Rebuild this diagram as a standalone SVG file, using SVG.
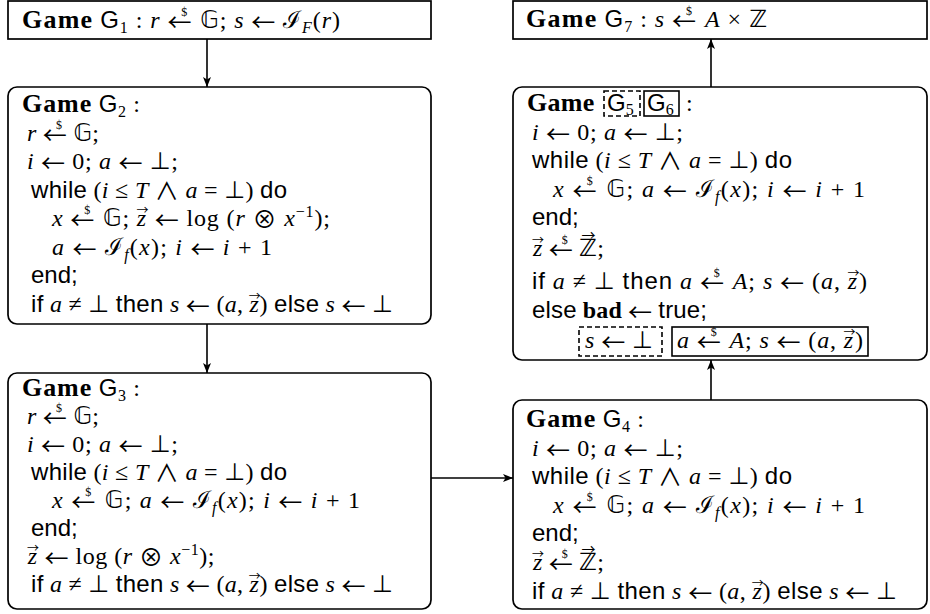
<svg xmlns="http://www.w3.org/2000/svg" width="930" height="614" viewBox="0 0 930 614">
<defs>
<style>
text { font-family: "Liberation Serif", "DejaVu Serif", serif; font-size: 24px; fill: #000; }
.i { font-style: italic; }
.sf { font-family: "Liberation Sans", "DejaVu Sans", sans-serif; }
.b { font-weight: bold; }
.g { font-weight: bold; font-size: 26px; letter-spacing: 0.3px; }
.ar { font-family: "Noto Sans CJK JP", "DejaVu Sans", sans-serif; baseline-shift: -3px; }
.op { font-family: "Noto Sans CJK JP", "DejaVu Sans", sans-serif; baseline-shift: -2px; }
.sy { font-family: "DejaVu Sans", sans-serif; }
.bb { font-family: "DejaVu Sans", "DejaVu Serif", sans-serif; }
.sm { font-size: 16px; }
.dl { font-size: 12px; }
.va { font-family: "Noto Sans CJK JP", "DejaVu Sans", sans-serif; font-size: 12px; }
.va2 { font-family: "Noto Sans CJK JP", "DejaVu Sans", sans-serif; font-size: 14px; }
.box { fill: #fff; stroke: #000; stroke-width: 1.7; }
.dash { fill: none; stroke: #000; stroke-width: 1.6; stroke-dasharray: 5 3; }
.solid { fill: none; stroke: #000; stroke-width: 1.6; }
.conn { stroke: #000; stroke-width: 1.6; fill: none; marker-end: url(#ah); }
</style>
<marker id="ah" viewBox="0 0 10 8" refX="10" refY="4" markerWidth="10" markerHeight="8" orient="auto" markerUnits="userSpaceOnUse"><path d="M0,0 L10,4 L0,8 L2.5,4 Z" fill="#000"/></marker>
</defs>

<g id="g1">
<rect class="box" x="8" y="1" width="423" height="38"/>
<text x="22" y="28" textLength="318"><tspan class="g">Game</tspan> <tspan class="sf">G</tspan><tspan class="sm" dy="5">1</tspan><tspan dy="-5"> : </tspan><tspan class="i">r</tspan> <tspan class="ar">←</tspan><tspan class="dl" dx="-11" dy="-12">$</tspan><tspan dx="5" dy="12"> </tspan><tspan class="bb">𝔾</tspan>; <tspan class="i">s</tspan> <tspan class="ar">←</tspan> ℐ<tspan class="sm i" dy="5">F</tspan><tspan dy="-5">(</tspan><tspan class="i">r</tspan>)</text>
</g>

<g id="g7">
<rect class="box" x="513" y="1" width="414" height="38"/>
<text x="526" y="27" textLength="241"><tspan class="g">Game</tspan> <tspan class="sf">G</tspan><tspan class="sm" dy="5">7</tspan><tspan dy="-5"> : </tspan><tspan class="i">s</tspan> <tspan class="ar">←</tspan><tspan class="dl" dx="-11" dy="-12">$</tspan><tspan dx="5" dy="12"> </tspan><tspan class="i">A</tspan> × <tspan class="bb">ℤ</tspan></text>
</g>

<g id="g2">
<rect class="box" x="8" y="87" width="423" height="237" rx="9"/>
<text x="22" y="112" textLength="118"><tspan class="g">Game</tspan> <tspan class="sf">G</tspan><tspan class="sm" dy="5">2</tspan><tspan dy="-5"> :</tspan></text>
<text x="27" y="141" textLength="72"><tspan class="i">r</tspan> <tspan class="ar">←</tspan><tspan class="dl" dx="-11" dy="-12">$</tspan><tspan dx="5" dy="12"> </tspan><tspan class="bb">𝔾</tspan>;</text>
<text x="27" y="169" textLength="151"><tspan class="i">i</tspan> <tspan class="ar">←</tspan> 0; <tspan class="i">a</tspan> <tspan class="ar">←</tspan> <tspan class="sy">⊥</tspan>;</text>
<text x="31" y="197.5" textLength="256"><tspan class="sf">while</tspan> (<tspan class="i">i</tspan> ≤ <tspan class="i">T</tspan> <tspan class="op">∧</tspan> <tspan class="i">a</tspan> = <tspan class="sy">⊥</tspan>) <tspan class="sf">do</tspan></text>
<text x="52" y="226" textLength="278"><tspan class="i">x</tspan> <tspan class="ar">←</tspan><tspan class="dl" dx="-11" dy="-12">$</tspan><tspan dx="5" dy="12"> </tspan><tspan class="bb">𝔾</tspan>; <tspan class="i">z</tspan><tspan class="va" dx="-10.5" dy="-11">→</tspan><tspan dx="-1.5" dy="11"> </tspan><tspan class="ar">←</tspan> log (<tspan class="i">r</tspan> <tspan class="op">⊗</tspan> <tspan class="i">x</tspan><tspan class="sm" dy="-9">−1</tspan><tspan dy="9">);</tspan></text>
<text x="52" y="254.5" textLength="220"><tspan class="i">a</tspan> <tspan class="ar">←</tspan> ℐ<tspan class="sm i" dy="5">f</tspan><tspan dy="-5">(</tspan><tspan class="i">x</tspan>); <tspan class="i">i</tspan> <tspan class="ar">←</tspan> <tspan class="i">i</tspan> + 1</text>
<text x="31" y="283"><tspan class="sf">end;</tspan></text>
<text x="31" y="311.5" textLength="362"><tspan class="sf">if</tspan> <tspan class="i">a</tspan> ≠ <tspan class="sy">⊥</tspan> <tspan class="sf">then</tspan> <tspan class="i">s</tspan> <tspan class="ar">←</tspan> (<tspan class="i">a</tspan>, <tspan class="i">z</tspan><tspan class="va" dx="-10.5" dy="-11">→</tspan><tspan dx="-1.5" dy="11">)</tspan> <tspan class="sf">else</tspan> <tspan class="i">s</tspan> <tspan class="ar">←</tspan> <tspan class="sy">⊥</tspan></text>
</g>

<g id="g3">
<rect class="box" x="8" y="373" width="423" height="236" rx="9"/>
<text x="22" y="396" textLength="118"><tspan class="g">Game</tspan> <tspan class="sf">G</tspan><tspan class="sm" dy="5">3</tspan><tspan dy="-5"> :</tspan></text>
<text x="27" y="424" textLength="72"><tspan class="i">r</tspan> <tspan class="ar">←</tspan><tspan class="dl" dx="-11" dy="-12">$</tspan><tspan dx="5" dy="12"> </tspan><tspan class="bb">𝔾</tspan>;</text>
<text x="27" y="452" textLength="151"><tspan class="i">i</tspan> <tspan class="ar">←</tspan> 0; <tspan class="i">a</tspan> <tspan class="ar">←</tspan> <tspan class="sy">⊥</tspan>;</text>
<text x="31" y="480" textLength="256"><tspan class="sf">while</tspan> (<tspan class="i">i</tspan> ≤ <tspan class="i">T</tspan> <tspan class="op">∧</tspan> <tspan class="i">a</tspan> = <tspan class="sy">⊥</tspan>) <tspan class="sf">do</tspan></text>
<text x="52" y="508" textLength="308"><tspan class="i">x</tspan> <tspan class="ar">←</tspan><tspan class="dl" dx="-11" dy="-12">$</tspan><tspan dx="5" dy="12"> </tspan><tspan class="bb">𝔾</tspan>; <tspan class="i">a</tspan> <tspan class="ar">←</tspan> ℐ<tspan class="sm i" dy="5">f</tspan><tspan dy="-5">(</tspan><tspan class="i">x</tspan>); <tspan class="i">i</tspan> <tspan class="ar">←</tspan> <tspan class="i">i</tspan> + 1</text>
<text x="31" y="536"><tspan class="sf">end;</tspan></text>
<text x="27" y="564" textLength="188"><tspan class="i">z</tspan><tspan class="va" dx="-10.5" dy="-11">→</tspan><tspan dx="-1.5" dy="11"> </tspan><tspan class="ar">←</tspan> log (<tspan class="i">r</tspan> <tspan class="op">⊗</tspan> <tspan class="i">x</tspan><tspan class="sm" dy="-9">−1</tspan><tspan dy="9">);</tspan></text>
<text x="31" y="592" textLength="362"><tspan class="sf">if</tspan> <tspan class="i">a</tspan> ≠ <tspan class="sy">⊥</tspan> <tspan class="sf">then</tspan> <tspan class="i">s</tspan> <tspan class="ar">←</tspan> (<tspan class="i">a</tspan>, <tspan class="i">z</tspan><tspan class="va" dx="-10.5" dy="-11">→</tspan><tspan dx="-1.5" dy="11">)</tspan> <tspan class="sf">else</tspan> <tspan class="i">s</tspan> <tspan class="ar">←</tspan> <tspan class="sy">⊥</tspan></text>
</g>

<g id="g4">
<rect class="box" x="513" y="400" width="414" height="209" rx="9"/>
<text x="526" y="427" textLength="118"><tspan class="g">Game</tspan> <tspan class="sf">G</tspan><tspan class="sm" dy="5">4</tspan><tspan dy="-5"> :</tspan></text>
<text x="532" y="455.5" textLength="151"><tspan class="i">i</tspan> <tspan class="ar">←</tspan> 0; <tspan class="i">a</tspan> <tspan class="ar">←</tspan> <tspan class="sy">⊥</tspan>;</text>
<text x="532" y="484" textLength="260"><tspan class="sf">while</tspan> (<tspan class="i">i</tspan> ≤ <tspan class="i">T</tspan> <tspan class="op">∧</tspan> <tspan class="i">a</tspan> = <tspan class="sy">⊥</tspan>) <tspan class="sf">do</tspan></text>
<text x="553" y="512.5" textLength="312"><tspan class="i">x</tspan> <tspan class="ar">←</tspan><tspan class="dl" dx="-11" dy="-12">$</tspan><tspan dx="5" dy="12"> </tspan><tspan class="bb">𝔾</tspan>; <tspan class="i">a</tspan> <tspan class="ar">←</tspan> ℐ<tspan class="sm i" dy="5">f</tspan><tspan dy="-5">(</tspan><tspan class="i">x</tspan>); <tspan class="i">i</tspan> <tspan class="ar">←</tspan> <tspan class="i">i</tspan> + 1</text>
<text x="532" y="541"><tspan class="sf">end;</tspan></text>
<text x="532" y="570" textLength="72"><tspan class="i">z</tspan><tspan class="va" dx="-10.5" dy="-11">→</tspan><tspan dx="-1.5" dy="11"> </tspan><tspan class="ar">←</tspan><tspan class="dl" dx="-11" dy="-12">$</tspan><tspan dx="5" dy="12"> </tspan><tspan class="bb">ℤ</tspan><tspan class="va2" dx="-15.5" dy="-16">→</tspan><tspan dx="1.5" dy="16">;</tspan></text>
<text x="532" y="599" textLength="365"><tspan class="sf">if</tspan> <tspan class="i">a</tspan> ≠ <tspan class="sy">⊥</tspan> <tspan class="sf">then</tspan> <tspan class="i">s</tspan> <tspan class="ar">←</tspan> (<tspan class="i">a</tspan>, <tspan class="i">z</tspan><tspan class="va" dx="-10.5" dy="-11">→</tspan><tspan dx="-1.5" dy="11">)</tspan> <tspan class="sf">else</tspan> <tspan class="i">s</tspan> <tspan class="ar">←</tspan> <tspan class="sy">⊥</tspan></text>
</g>

<g id="g56">
<rect class="box" x="513" y="87" width="414" height="273" rx="9"/>
<text x="527" y="111"><tspan class="g">Game</tspan></text>
<rect class="dash" x="604" y="91" width="36" height="25"/>
<text x="607" y="111"><tspan class="sf">G</tspan><tspan class="sm" dy="4">5</tspan></text>
<rect class="solid" x="644" y="91" width="35" height="25"/>
<text x="647" y="111"><tspan class="sf">G</tspan><tspan class="sm" dy="4">6</tspan></text>
<text x="686" y="111">:</text>
<text x="532" y="140" textLength="151"><tspan class="i">i</tspan> <tspan class="ar">←</tspan> 0; <tspan class="i">a</tspan> <tspan class="ar">←</tspan> <tspan class="sy">⊥</tspan>;</text>
<text x="532" y="168" textLength="260"><tspan class="sf">while</tspan> (<tspan class="i">i</tspan> ≤ <tspan class="i">T</tspan> <tspan class="op">∧</tspan> <tspan class="i">a</tspan> = <tspan class="sy">⊥</tspan>) <tspan class="sf">do</tspan></text>
<text x="553" y="197" textLength="312"><tspan class="i">x</tspan> <tspan class="ar">←</tspan><tspan class="dl" dx="-11" dy="-12">$</tspan><tspan dx="5" dy="12"> </tspan><tspan class="bb">𝔾</tspan>; <tspan class="i">a</tspan> <tspan class="ar">←</tspan> ℐ<tspan class="sm i" dy="5">f</tspan><tspan dy="-5">(</tspan><tspan class="i">x</tspan>); <tspan class="i">i</tspan> <tspan class="ar">←</tspan> <tspan class="i">i</tspan> + 1</text>
<text x="532" y="225"><tspan class="sf">end;</tspan></text>
<text x="532" y="256" textLength="72"><tspan class="i">z</tspan><tspan class="va" dx="-10.5" dy="-11">→</tspan><tspan dx="-1.5" dy="11"> </tspan><tspan class="ar">←</tspan><tspan class="dl" dx="-11" dy="-12">$</tspan><tspan dx="5" dy="12"> </tspan><tspan class="bb">ℤ</tspan><tspan class="va2" dx="-15.5" dy="-16">→</tspan><tspan dx="1.5" dy="16">;</tspan></text>
<text x="532" y="289" textLength="335"><tspan class="sf">if</tspan> <tspan class="i">a</tspan> ≠ <tspan class="sy">⊥</tspan> <tspan class="sf">then</tspan> <tspan class="i">a</tspan> <tspan class="ar">←</tspan><tspan class="dl" dx="-11" dy="-12">$</tspan><tspan dx="5" dy="12"> </tspan><tspan class="i">A</tspan>; <tspan class="i">s</tspan> <tspan class="ar">←</tspan> (<tspan class="i">a</tspan>, <tspan class="i">z</tspan><tspan class="va" dx="-10.5" dy="-11">→</tspan><tspan dx="-1.5" dy="11">)</tspan></text>
<text x="532" y="318" textLength="175"><tspan class="sf">else</tspan> <tspan class="b">bad</tspan> <tspan class="ar">←</tspan> <tspan class="sf">true;</tspan></text>
<rect class="dash" x="579" y="327" width="83" height="29"/>
<text x="585" y="348" textLength="68"><tspan class="i">s</tspan> <tspan class="ar">←</tspan> <tspan class="sy">⊥</tspan></text>
<rect class="solid" x="672" y="327" width="196" height="29"/>
<text x="677" y="348" textLength="186"><tspan class="i">a</tspan> <tspan class="ar">←</tspan><tspan class="dl" dx="-11" dy="-12">$</tspan><tspan dx="5" dy="12"> </tspan><tspan class="i">A</tspan>; <tspan class="i">s</tspan> <tspan class="ar">←</tspan> (<tspan class="i">a</tspan>, <tspan class="i">z</tspan><tspan class="va" dx="-10.5" dy="-11">→</tspan><tspan dx="-1.5" dy="11">)</tspan></text>
</g>

<g id="connectors">
<path class="conn" d="M207,39 L207,87"/>
<path class="conn" d="M207,324 L207,373"/>
<path class="conn" d="M431,478 L513,478"/>
<path class="conn" d="M711,400 L711,360"/>
<path class="conn" d="M711,87 L711,39"/>
</g>
</svg>
